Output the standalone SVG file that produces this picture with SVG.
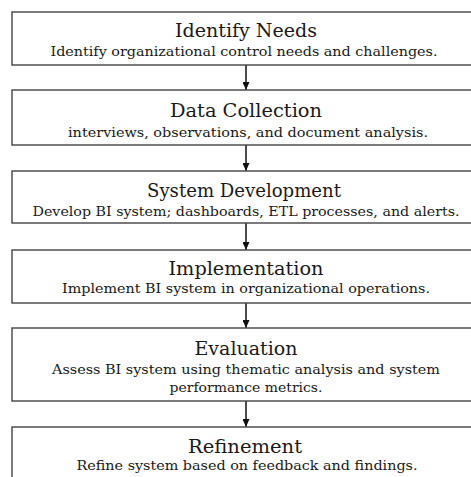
<svg xmlns="http://www.w3.org/2000/svg" width="471" height="477" viewBox="0 0 471 477">
  <style>
    .box { fill: #ffffff; stroke: #444444; stroke-width: 1.4; }
    .title { font-family: "DejaVu Serif", "Liberation Serif", serif; font-size: 18px; fill: #1a1a1a; text-anchor: middle; }
    .desc { font-family: "DejaVu Serif", "Liberation Serif", serif; font-size: 13.5px; fill: #1a1a1a; text-anchor: middle; }
    .link { stroke: #111111; stroke-width: 1.5; fill: none; }
  </style>
  <defs>
    <marker id="arrow" viewBox="0 0 8 7" refX="8" refY="3.5" markerWidth="8" markerHeight="7" markerUnits="userSpaceOnUse" orient="auto">
      <path d="M0,0 L8,3.5 L0,7 Z" fill="#111111"/>
    </marker>
  </defs>
  <rect width="471" height="477" fill="#ffffff"/>

  <g id="connectors">
    <line class="link" x1="246" y1="65" x2="246" y2="90" marker-end="url(#arrow)"/>
    <line class="link" x1="246" y1="145" x2="246" y2="171" marker-end="url(#arrow)"/>
    <line class="link" x1="246" y1="223" x2="246" y2="250" marker-end="url(#arrow)"/>
    <line class="link" x1="246" y1="303" x2="246" y2="328" marker-end="url(#arrow)"/>
    <line class="link" x1="246" y1="401" x2="246" y2="427" marker-end="url(#arrow)"/>
  </g>

  <g id="identify-needs">
    <rect class="box" x="12" y="12" width="468" height="53"/>
    <text class="title" x="246" y="37" textLength="142" lengthAdjust="spacingAndGlyphs">Identify Needs</text>
    <text class="desc" x="244" y="56" textLength="387" lengthAdjust="spacingAndGlyphs">Identify organizational control needs and challenges.</text>
  </g>

  <g id="data-collection">
    <rect class="box" x="12" y="90" width="468" height="55"/>
    <text class="title" x="246" y="117" textLength="152" lengthAdjust="spacingAndGlyphs">Data Collection</text>
    <text class="desc" x="248" y="137" textLength="360" lengthAdjust="spacingAndGlyphs">interviews, observations, and document analysis.</text>
  </g>

  <g id="system-development">
    <rect class="box" x="12" y="171" width="468" height="52"/>
    <text class="title" x="244" y="197" textLength="194" lengthAdjust="spacingAndGlyphs">System Development</text>
    <text class="desc" x="246" y="216" textLength="427" lengthAdjust="spacingAndGlyphs">Develop BI system; dashboards, ETL processes, and alerts.</text>
  </g>

  <g id="implementation">
    <rect class="box" x="12" y="250" width="468" height="53"/>
    <text class="title" x="246" y="275" textLength="155" lengthAdjust="spacingAndGlyphs">Implementation</text>
    <text class="desc" x="246" y="293" textLength="368" lengthAdjust="spacingAndGlyphs">Implement BI system in organizational operations.</text>
  </g>

  <g id="evaluation">
    <rect class="box" x="12" y="328" width="468" height="73"/>
    <text class="title" x="246" y="355" textLength="103" lengthAdjust="spacingAndGlyphs">Evaluation</text>
    <text class="desc" x="246" y="374" textLength="388" lengthAdjust="spacingAndGlyphs">Assess BI system using thematic analysis and system</text>
    <text class="desc" x="246" y="392" textLength="153" lengthAdjust="spacingAndGlyphs">performance metrics.</text>
  </g>

  <g id="refinement">
    <rect class="box" x="12" y="427" width="468" height="60"/>
    <text class="title" x="245" y="453" textLength="114" lengthAdjust="spacingAndGlyphs">Refinement</text>
    <text class="desc" x="247" y="470" textLength="341" lengthAdjust="spacingAndGlyphs">Refine system based on feedback and findings.</text>
  </g>
</svg>
